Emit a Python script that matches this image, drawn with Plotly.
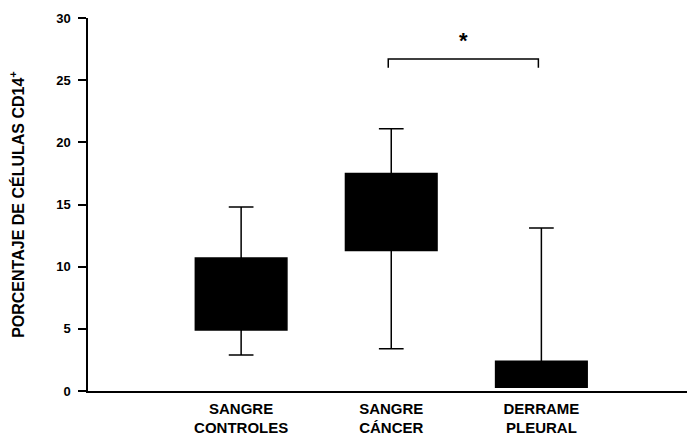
import plotly.graph_objects as go

# Distribution summaries of CD14+ cell percentage per group
categories = ["SANGRE<br>CONTROLES", "SANGRE<br>CÁNCER", "DERRAME<br>PLEURAL"]
lower_whisker = [2.9, 3.4, 0.3]
q1_values = [4.9, 11.3, 0.3]
medians = [8.0, 14.4, 1.3]
q3_values = [10.7, 17.5, 2.4]
upper_whisker = [14.8, 21.1, 13.1]

# significance bracket between the cancer blood and pleural effusion groups
bracket_y = 26.7
bracket_drop = 0.7
star_label = "*"

x_pos = list(range(len(categories)))

fig = go.Figure()
fig.add_trace(go.Box(
    x=x_pos,
    q1=q1_values,
    median=medians,
    q3=q3_values,
    lowerfence=lower_whisker,
    upperfence=upper_whisker,
    fillcolor="black",
    line=dict(color="black", width=1.5),
    width=0.61,
    whiskerwidth=0.27,
    boxpoints=False,
    hoverinfo="skip",
    showlegend=False,
))

# bracket with asterisk
fig.add_trace(go.Scatter(
    x=[x_pos[1] - 0.02, x_pos[1] - 0.02, x_pos[2] - 0.02, x_pos[2] - 0.02],
    y=[bracket_y - bracket_drop, bracket_y, bracket_y, bracket_y - bracket_drop],
    mode="lines",
    line=dict(color="black", width=1.5),
    hoverinfo="skip",
    showlegend=False,
))
fig.add_annotation(
    x=(x_pos[1] + x_pos[2]) / 2 - 0.02, y=bracket_y + 0.3,
    text=star_label, showarrow=False, yanchor="bottom",
    font=dict(size=22, color="black", family="Liberation Sans", weight="bold"),
)

fig.update_layout(
    width=687, height=441,
    margin=dict(l=88, r=0, t=18, b=50),
    paper_bgcolor="white", plot_bgcolor="white",
    font=dict(family="Liberation Sans", color="black", size=13, weight="bold"),
    xaxis=dict(
        range=[-1.02, 2.97],
        tickvals=x_pos, ticktext=categories,
        showline=True, linecolor="black", linewidth=1.5,
        ticks="", showgrid=False, zeroline=False,
        tickfont=dict(size=15, weight="bold"),
        ticklabelstandoff=3,
    ),
    yaxis=dict(
        range=[0, 30], tickvals=[0, 5, 10, 15, 20, 25, 30],
        showline=True, linecolor="black", linewidth=1.5,
        ticks="outside", ticklen=8, tickwidth=1.5, tickcolor="black",
        showgrid=False, zeroline=False,
        tickfont=dict(size=13, weight="bold"),
        ticklabelstandoff=5,
        title=dict(text="PORCENTAJE DE CÉLULAS CD14<sup>+</sup>",
                   font=dict(size=16, weight="bold"), standoff=28),
    ),
)

fig.write_html("out.html")
